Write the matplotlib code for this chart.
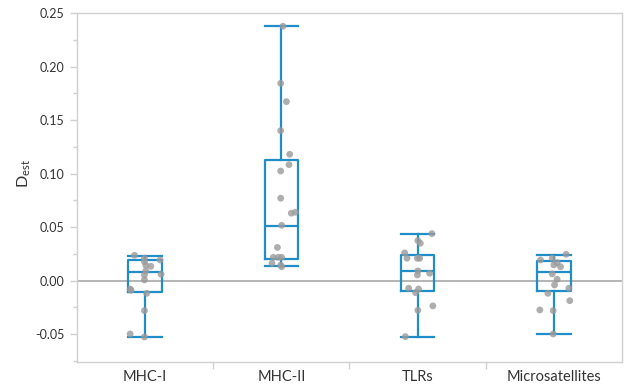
import matplotlib
matplotlib.use("Agg")
import matplotlib.pyplot as plt
from matplotlib.ticker import MultipleLocator, FormatStrFormatter

plt.rcParams['font.family'] = ['Lato', 'DejaVu Sans']
plt.rcParams['axes.unicode_minus'] = False

categories = ["MHC-I", "MHC-II", "TLRs", "Microsatellites"]

# box statistics
whisker_low = [-0.0525, 0.0140, -0.0523, -0.0498]
q1 = [-0.0103, 0.0203, -0.0093, -0.0093]
median = [0.0084, 0.0511, 0.0091, 0.0084]
q3 = [0.0190, 0.1127, 0.0237, 0.0184]
whisker_high = [0.0231, 0.2376, 0.0439, 0.0240]

# individual points (values) and their horizontal jitter (category units)
mhc1_values = [0.0237, 0.0209, 0.0178, 0.0144, 0.0134, 0.0193, 0.0060, 0.0091,
               0.0053, 0.0007, -0.0078, -0.0090, -0.0118, -0.0280, -0.0498, -0.0526]
mhc1_jitter = [-0.078, -0.005, -0.005, 0.005, 0.042, 0.110, 0.117, 0.005,
               -0.005, -0.005, -0.110, -0.103, 0.012, -0.005, -0.110, -0.005]

mhc2_values = [0.2376, 0.1843, 0.1672, 0.1401, 0.1180, 0.1083, 0.1024, 0.0770, 0.0639,
               0.0630, 0.0517, 0.0310, 0.0218, 0.0218, 0.0218, 0.0162, 0.0145, 0.0130]
mhc2_jitter = [0.012, -0.005, 0.037, -0.005, 0.061, 0.056, -0.005, -0.005, 0.103,
               0.073, 0.002, -0.029, -0.059, -0.022, 0.002, -0.069, -0.005, 0.002]

tlr_values = [0.0439, 0.0374, 0.0349, 0.0259, 0.0209, 0.0209, 0.0209, 0.0091,
              0.0053, 0.0069, -0.0071, -0.0078, -0.0112, -0.0236, -0.0277, -0.0523]
tlr_jitter = [0.105, 0.002, 0.020, -0.095, -0.078, -0.002, 0.015, 0.002,
              -0.002, 0.088, -0.066, 0.007, -0.015, 0.112, 0.002, -0.090]

msat_values = [0.0246, 0.0193, 0.0209, 0.0168, 0.0147, 0.0130, 0.0063, 0.0013,
               -0.0040, -0.0071, -0.0118, -0.0187, -0.0274, -0.0280, -0.0498]
msat_jitter = [0.090, -0.098, -0.012, 0.024, 0.000, 0.049, -0.012, 0.024,
               0.005, 0.110, -0.044, 0.117, -0.103, -0.005, -0.005]

point_values = [mhc1_values, mhc2_values, tlr_values, msat_values]
point_jitter = [mhc1_jitter, mhc2_jitter, tlr_jitter, msat_jitter]

BLUE = "#1f8dc8"
GRAY_PT = "#9a9a9a"
SPINE = "#d0d0d0"
TEXT = "#333333"

fig = plt.figure(figsize=(6.27, 3.89), dpi=100)
ax = fig.add_axes([0.1228, 0.0694, 0.8692, 0.8972])

stats = []
for i, name in enumerate(categories):
    stats.append(dict(label=name, whislo=whisker_low[i], q1=q1[i], med=median[i],
                      q3=q3[i], whishi=whisker_high[i], fliers=[]))

lineprops = dict(color=BLUE, linewidth=1.6)
ax.bxp(stats, positions=range(len(categories)), widths=0.245, showfliers=False,
       boxprops=lineprops, whiskerprops=lineprops, capprops=lineprops,
       medianprops=lineprops, capwidths=0.245, zorder=2)

for i in range(len(categories)):
    xs = [i + j for j in point_jitter[i]]
    ax.scatter(xs, point_values[i], s=24, color=GRAY_PT, alpha=0.8,
               edgecolors='none', zorder=3)

ax.axhline(0, color="#a0a0a0", linewidth=1.1, zorder=1)

ax.set_xlim(-0.5, len(categories) - 0.5)
ax.set_ylim(-0.076, 0.25)

ax.yaxis.set_major_locator(MultipleLocator(0.05))
ax.yaxis.set_minor_locator(MultipleLocator(0.025))
ax.yaxis.set_major_formatter(FormatStrFormatter('%.2f'))

ax.set_xticks(range(len(categories)))
ax.set_xticklabels(categories, fontsize=10.5, color=TEXT)
ax.tick_params(axis='x', which='major', length=0, pad=6)
ax.set_xticks([0.5, 1.5, 2.5], minor=True)
ax.tick_params(axis='x', which='minor', length=5, color=SPINE, width=1)

ax.tick_params(axis='y', which='major', length=5, color=SPINE, width=1,
               labelsize=9, labelcolor=TEXT, pad=4)
ax.tick_params(axis='y', which='minor', length=3, color=SPINE, width=1)

for sp in ax.spines.values():
    sp.set_color(SPINE)
    sp.set_linewidth(1)

ax.set_ylabel(r"D$_\mathregular{est}$", fontsize=11.5, color=TEXT)
ax.yaxis.set_label_coords(-0.08, 0.54)

fig.savefig("out.png", dpi=100)
